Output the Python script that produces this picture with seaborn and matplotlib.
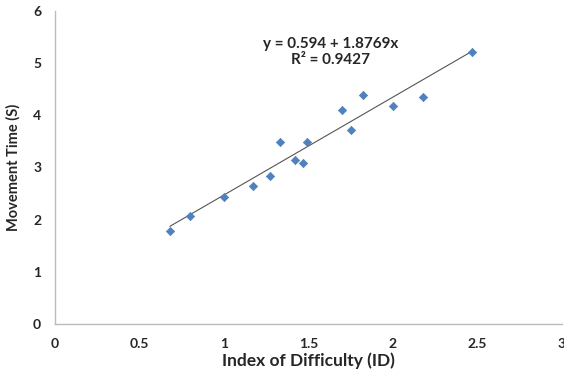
import numpy as np
import pandas as pd
import matplotlib
matplotlib.use("Agg")
import matplotlib.pyplot as plt
import seaborn as sns

# values
index_of_difficulty = [0.68, 0.80, 1.00, 1.17, 1.27, 1.33, 1.42, 1.47, 1.49,
                       1.70, 1.75, 1.82, 2.00, 2.18, 2.47]
movement_time = [1.78, 2.06, 2.43, 2.64, 2.84, 3.49, 3.15, 3.08, 3.49,
                 4.10, 3.72, 4.38, 4.17, 4.34, 5.22]
intercept = 0.594
slope = 1.8769
r_squared = 0.9427

df = pd.DataFrame({"ID": index_of_difficulty, "MT": movement_time})

sns.set_style("white")
plt.rcParams['font.family'] = ['Lato', 'DejaVu Sans']

fig = plt.figure(figsize=(5.64, 3.74), dpi=100)
ax = fig.add_axes([0.0975, 0.134, 0.899, 0.837])

xs = np.array([df["ID"].min(), df["ID"].max()])
ax.plot(xs, intercept + slope * xs, color="#555555", linewidth=0.8, zorder=1)
sns.scatterplot(data=df, x="ID", y="MT", marker="D", s=18, color="#4F81BD",
                edgecolor="#4F81BD", linewidth=0.5, ax=ax, zorder=2)

ax.text(1.63, 5.37, f"y = {intercept} + {slope}x", ha="center", va="center",
        fontsize=11, fontweight="bold")
ax.text(1.63, 5.06, f"R² = {r_squared}", ha="center", va="center",
        fontsize=11, fontweight="bold")

ax.set_xlim(0, 3)
ax.set_ylim(0, 6)
ax.set_xticks([0, 0.5, 1, 1.5, 2, 2.5, 3])
ax.set_xticklabels(["0", "0.5", "1", "1.5", "2", "2.5", "3"])
ax.set_yticks(range(7))
ax.set_xlabel("Index of Difficulty (ID)", fontsize=12.5, fontweight="bold",
              labelpad=2)
ax.set_ylabel("Movement Time (S)", fontsize=10.5, fontweight="bold",
              labelpad=9)

for side in ["top", "right"]:
    ax.spines[side].set_visible(False)
for side in ["left", "bottom"]:
    ax.spines[side].set_color("#BBBBBB")
    ax.spines[side].set_linewidth(1.0)
ax.tick_params(axis="both", direction="out", length=4, color="#BBBBBB",
               labelsize=10, width=1.0, pad=6)
for lbl in ax.get_xticklabels() + ax.get_yticklabels():
    lbl.set_fontweight("bold")

fig.savefig("out.png", dpi=100)
